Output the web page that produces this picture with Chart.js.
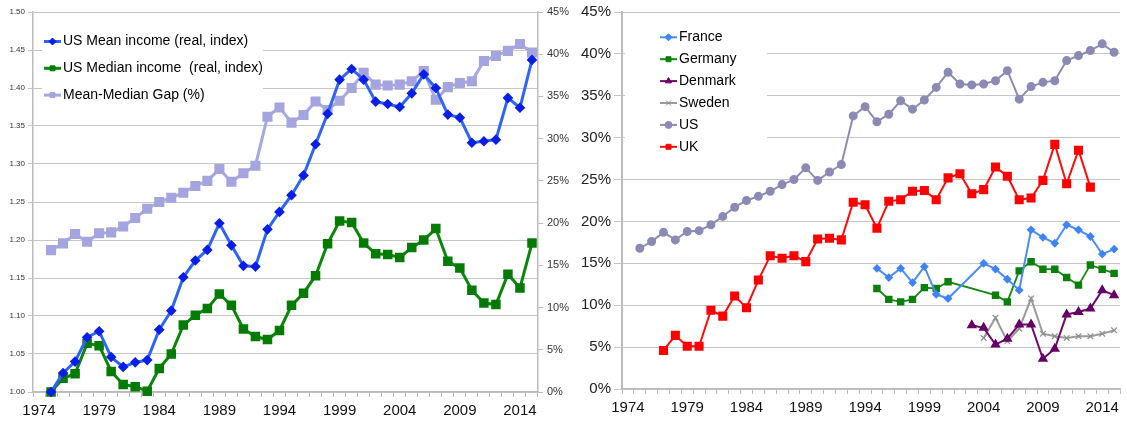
<!DOCTYPE html>
<html>
<head>
<meta charset="utf-8">
<script src="https://cdn.jsdelivr.net/npm/chart.js@4.4.1/dist/chart.umd.min.js"></script>
<style>
  html, body { margin: 0; padding: 0; background: #fff; }
  #wrap { position: relative; width: 1127px; height: 422px; }
  #leftChart { position: absolute; left: 0; top: 0; }
  #rightChart { position: absolute; left: 570px; top: 0; }
</style>
</head>
<body>
<div id="wrap">
  <canvas id="leftChart" width="570" height="422"></canvas>
  <canvas id="rightChart" width="557" height="422"></canvas>
</div>
<script>
// Categories (one per year, labels shown every 5 years)
const years = ['1974', '1975', '1976', '1977', '1978', '1979', '1980', '1981', '1982', '1983',
    '1984', '1985', '1986', '1987', '1988', '1989', '1990', '1991', '1992', '1993',
    '1994', '1995', '1996', '1997', '1998', '1999', '2000', '2001', '2002', '2003',
    '2004', '2005', '2006', '2007', '2008', '2009', '2010', '2011', '2012', '2013',
    '2014', '2015'];
const labelEvery = 5;

// Left chart: US income index (left axis) and mean-median gap in % (right axis), from 1975
const meanIncome = [1.000, 1.025, 1.040, 1.072, 1.080, 1.046, 1.033, 1.039, 1.042, 1.082,
    1.107, 1.151, 1.173, 1.187, 1.222, 1.193, 1.166, 1.165, 1.214, 1.237,
    1.259, 1.285, 1.326, 1.366, 1.411, 1.425, 1.411, 1.382, 1.379, 1.375,
    1.393, 1.418, 1.400, 1.365, 1.361, 1.328, 1.330, 1.332, 1.387, 1.374, 1.437];
const medianIncome = [1.000, 1.018, 1.024, 1.064, 1.061, 1.027, 1.010, 1.007, 1.001, 1.031,
    1.050, 1.088, 1.101, 1.110, 1.129, 1.114, 1.083, 1.073, 1.069, 1.081,
    1.114, 1.130, 1.153, 1.195, 1.225, 1.223, 1.196, 1.182, 1.181, 1.177,
    1.190, 1.200, 1.215, 1.172, 1.163, 1.134, 1.117, 1.115, 1.155, 1.137, 1.196];
const usGap = [16.8, 17.6, 18.7, 17.8, 18.8, 18.9, 19.6, 20.6, 21.7, 22.5,
    23.0, 23.6, 24.4, 25.0, 26.4, 24.9, 25.9, 26.8, 32.6, 33.7,
    31.9, 32.8, 34.4, 33.4, 34.5, 36.0, 37.8, 36.4, 36.3, 36.4,
    36.8, 38.0, 34.6, 36.1, 36.6, 36.8, 39.2, 39.8, 40.4, 41.2, 40.2];
const usStart = 1975;

// Right chart: gap (%) by country; each series with its first year
const franceGap = [14.4, 13.3, 14.4, 12.7, 14.6, 11.3, 10.8, null, null, 15.0,
    14.3, 13.1, 11.8, 19.0, 18.1, 17.4, 19.6, 19.0, 18.2, 16.1, 16.7];
const franceStart = 1995;
const germanyGap = [12.0, 10.7, 10.4, 10.7, 12.1, 12.0, 12.8, null, null, null,
    11.2, 10.4, 14.1, 15.2, 14.3, 14.3, 13.3, 12.4, 14.8, 14.3, 13.8];
const germanyStart = 1995;
const denmarkGap = [7.6, 7.3, 5.3, 6.0, 7.7, 7.7, 3.6, 4.8, 8.9, 9.2, 9.6, 11.8, 11.2];
const denmarkStart = 2003;
const swedenGap = [6.1, 8.5, 5.7, 7.2, 10.8, 6.6, 6.3, 6.1, 6.3, 6.3, 6.6, 7.0];
const swedenStart = 2004;
const ukGap = [4.6, 6.4, 5.1, 5.1, 9.4, 8.7, 11.1, 9.7, 13.0, 15.9,
    15.6, 15.9, 15.2, 17.9, 18.0, 17.8, 22.3, 22.0, 19.2, 22.4,
    22.6, 23.6, 23.7, 22.6, 25.2, 25.7, 23.3, 23.8, 26.5, 25.4,
    22.6, 22.8, 24.9, 29.2, 24.5, 28.5, 24.1];
const ukStart = 1977;

Chart.defaults.font.family = '"Liberation Sans", Arial, Helvetica, sans-serif';
Chart.defaults.animation = false;

function series(start, values) {
    return values.map((v, i) => ({ x: String(start + i), y: v }));
}

// Excel-style legend: white box sitting inside the plot, line + marker + text
const boxLegend = {
    id: 'boxLegend',
    afterDraw(chart, args, opts) {
        const ctx = chart.ctx;
        ctx.save();
        ctx.fillStyle = '#fff';
        ctx.fillRect(opts.box[0], opts.box[1], opts.box[2], opts.box[3]);
        ctx.font = opts.font;
        ctx.textBaseline = 'middle';
        ctx.textAlign = 'left';
        chart.data.datasets.forEach((ds, i) => {
            const x = opts.left;
            const y = opts.top + i * opts.rowHeight;
            ctx.strokeStyle = ds.borderColor;
            ctx.lineWidth = opts.lineWidth;
            ctx.beginPath();
            ctx.moveTo(x, y);
            ctx.lineTo(x + opts.sample, y);
            ctx.stroke();
            ctx.fillStyle = ds.pointBackgroundColor;
            ctx.strokeStyle = ds.pointBorderColor;
            ctx.lineWidth = 1;
            Chart.helpers.drawPoint(ctx, {
                pointStyle: ds.pointStyle, radius: opts.markerRadius, borderWidth: 1, rotation: 0
            }, x + opts.sample / 2, y);
            ctx.fillStyle = '#000';
            ctx.fillText(ds.label, x + opts.sample + 2, y);
        });
        ctx.restore();
    }
};

function yearTicks(value) {
    const y = this.getLabelForValue(value);
    return (Number(y) - Number(years[0])) % labelEvery === 0 ? y : '';
}

function xAxis(height) {
    return {
        type: 'category',
        offset: true,
        grid: { offset: true, drawOnChartArea: false, color: '#bbb', tickLength: 5 },
        border: { color: '#bbb', width: 1.5 },
        ticks: {
            autoSkip: false, maxRotation: 0, padding: 5,
            font: { size: 15 }, color: '#111',
            callback: yearTicks
        },
        afterFit: s => { s.height = height; }
    };
}

// ---------- left chart ----------
new Chart(document.getElementById('leftChart'), {
    type: 'line',
    data: {
        labels: years,
        datasets: [{
            label: 'US Mean income (real, index)',
            data: series(usStart, meanIncome),
            yAxisID: 'y',
            borderColor: '#2f64f8',
            borderWidth: 3,
            pointStyle: 'rectRot',
            pointRadius: 3.2,
            pointBackgroundColor: '#0a1ee8',
            pointBorderColor: '#0a1ee8',
            clip: false
        }, {
            label: 'US Median income  (real, index)',
            data: series(usStart, medianIncome),
            yAxisID: 'y',
            borderColor: '#0a870a',
            borderWidth: 3,
            pointStyle: 'rect',
            pointRadius: 4.6,
            pointBackgroundColor: '#057a05',
            pointBorderColor: '#057a05',
            clip: false
        }, {
            label: 'Mean-Median Gap (%)',
            data: series(usStart, usGap),
            yAxisID: 'y1',
            borderColor: '#a7a7e2',
            borderWidth: 3,
            pointStyle: 'rect',
            pointRadius: 5,
            pointBackgroundColor: '#a4a4de',
            pointBorderColor: '#a4a4de',
            clip: false
        }]
    },
    options: {
        responsive: false,
        devicePixelRatio: 1,
        layout: { padding: { top: 12, left: 0, right: 0, bottom: 0 } },
        plugins: {
            legend: { display: false },
            tooltip: { enabled: false },
            boxLegend: {
                box: [42, 28, 221, 80],
                left: 44, top: 41.5, rowHeight: 26.8,
                sample: 17, lineWidth: 3, markerRadius: 3.5,
                font: '14px "Liberation Sans", Arial, sans-serif'
            }
        },
        scales: {
            x: xAxis(30),
            y: {
                position: 'left',
                min: 1.0, max: 1.5,
                grid: { color: '#c6c6c6', tickLength: 5 },
                border: { color: '#bbb', width: 1.5 },
                ticks: {
                    stepSize: 0.05, padding: 3,
                    font: { size: 8 }, color: '#333',
                    callback: v => v.toFixed(2)
                },
                afterFit: s => { s.width = 33; }
            },
            y1: {
                position: 'right',
                min: 0, max: 45,
                grid: { drawOnChartArea: false, color: '#bbb', tickLength: 5 },
                border: { color: '#bbb', width: 1.5 },
                ticks: {
                    stepSize: 5, padding: 4,
                    font: { size: 11 }, color: '#333',
                    callback: v => v + '%'
                },
                afterFit: s => { s.width = 32; }
            }
        }
    },
    plugins: [boxLegend]
});

// ---------- right chart ----------
new Chart(document.getElementById('rightChart'), {
    type: 'line',
    data: {
        labels: years,
        datasets: [{
            label: 'France',
            data: series(franceStart, franceGap),
            borderColor: '#4a8cf7', borderWidth: 2,
            pointStyle: 'rectRot', pointRadius: 3,
            pointBackgroundColor: '#3f84f6', pointBorderColor: '#3f84f6'
        }, {
            label: 'Germany',
            data: series(germanyStart, germanyGap),
            borderColor: '#138a13', borderWidth: 1.8,
            pointStyle: 'rect', pointRadius: 4,
            pointBackgroundColor: '#0a800a', pointBorderColor: '#0a800a'
        }, {
            label: 'Denmark',
            data: series(denmarkStart, denmarkGap),
            borderColor: '#6b0a6b', borderWidth: 2,
            pointStyle: 'triangle', pointRadius: 4,
            pointBackgroundColor: '#660066', pointBorderColor: '#660066'
        }, {
            label: 'Sweden',
            data: series(swedenStart, swedenGap),
            borderColor: '#9a9a9a', borderWidth: 2,
            pointStyle: 'crossRot', pointRadius: 4, pointBorderWidth: 1.2,
            pointBackgroundColor: '#8f8f8f', pointBorderColor: '#8f8f8f'
        }, {
            label: 'US',
            data: series(usStart, usGap),
            borderColor: '#8c8cb6', borderWidth: 2,
            pointStyle: 'circle', pointRadius: 3.5,
            pointBackgroundColor: '#8a8ab4', pointBorderColor: '#8a8ab4'
        }, {
            label: 'UK',
            data: series(ukStart, ukGap),
            borderColor: '#ff0a0a', borderWidth: 2,
            pointStyle: 'rect', pointRadius: 5,
            pointBackgroundColor: '#ff0000', pointBorderColor: '#ff0000'
        }]
    },
    options: {
        responsive: false,
        devicePixelRatio: 1,
        spanGaps: true,
        layout: { padding: { top: 12, left: 0, right: 0, bottom: 0 } },
        plugins: {
            legend: { display: false },
            tooltip: { enabled: false },
            boxLegend: {
                box: [55, 24, 142, 135],
                left: 90, top: 37.3, rowHeight: 21.9,
                sample: 17, lineWidth: 2, markerRadius: 3.5,
                font: '14px "Liberation Sans", Arial, sans-serif'
            }
        },
        scales: {
            x: xAxis(33),
            y: {
                min: 0, max: 45,
                grid: { color: '#c6c6c6', tickLength: 8 },
                border: { color: '#bbb', width: 2 },
                ticks: {
                    stepSize: 5, padding: 3,
                    font: { size: 15 }, color: '#222',
                    callback: v => v + '%'
                },
                afterFit: s => { s.width = 52; }
            }
        }
    },
    plugins: [boxLegend]
});
</script>
</body>
</html>
